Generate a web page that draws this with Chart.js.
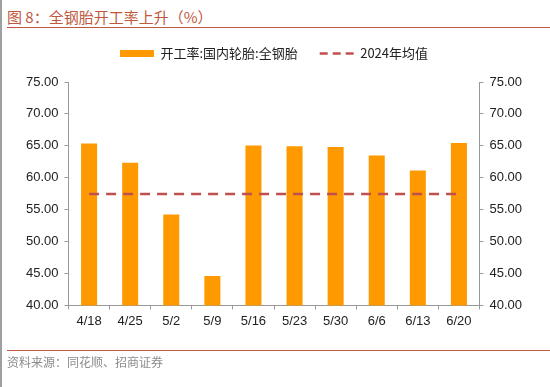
<!DOCTYPE html>
<html>
<head>
<meta charset="utf-8">
<script src="https://cdn.jsdelivr.net/npm/chart.js@4"></script>
<style>
  body { margin: 0; background: #fff; }
  #wrap { position: relative; width: 550px; height: 387px; overflow: hidden; border-left: 2px solid #a0a0a0; box-sizing: border-box; }
  #title { position: absolute; left: 5px; top: 6px; font: 15px "Noto Sans CJK SC", sans-serif; color: #c0583e; }
  #titleLine { position: absolute; left: 5px; right: 0; top: 27px; border-top: 1.5px solid #c0583e; }
  #footLine { position: absolute; left: 5px; right: 0; top: 350px; border-top: 1.5px solid #c0583e; }
  #source { position: absolute; left: 5px; top: 353px; font: 12px "Noto Sans CJK SC", sans-serif; color: #8c8c8c; }
  canvas { position: absolute; left: 0; top: 0; }
</style>
</head>
<body>
<div id="wrap">
  <div id="title">图 8：全钢胎开工率上升（%）</div>
  <div id="titleLine"></div>
  <canvas id="myChart" width="548" height="387"></canvas>
  <div id="footLine"></div>
  <div id="source">资料来源：同花顺、招商证券</div>
</div>
<script>
// chart data
const dates = ['4/18', '4/25', '5/2', '5/9', '5/16', '5/23', '5/30', '6/6', '6/13', '6/20'];
const operatingRate = [65.35, 62.35, 54.25, 44.6, 65.05, 64.95, 64.8, 63.5, 61.15, 65.45];
const avg2024 = [57.47, 57.47, 57.47, 57.47, 57.47, 57.47, 57.47, 57.47, 57.47, 57.47];
const yTicks = [40, 45, 50, 55, 60, 65, 70, 75];

const tickFont = { family: 'Liberation Sans, Arial', size: 13 };

const axisY = (pos) => ({
  position: pos,
  min: 40,
  max: 75,
  afterBuildTicks: (axis) => { axis.ticks = yTicks.map(v => ({ value: v })); },
  border: { color: '#999', width: 1 },
  grid: { drawOnChartArea: false, drawTicks: true, tickLength: 4, color: '#999' },
  ticks: { color: '#222', font: tickFont, padding: 6, callback: (v) => v.toFixed(2) }
});

// push the plot down a bit below the legend
const legendGap = {
  id: 'legendGap',
  beforeInit(chart) {
    const fit = chart.legend.fit;
    chart.legend.fit = function () {
      fit.bind(chart.legend)();
      this.height += 12;
    };
  }
};

var ctx = document.getElementById('myChart').getContext('2d');
var myChart = new Chart(ctx, {
  data: {
    labels: dates,
    datasets: [
      {
        type: 'line',
        label: '2024年均值',
        data: avg2024,
        borderColor: '#c0504d',
        borderWidth: 2.5,
        borderDash: [10, 7],
        pointRadius: 0,
        fill: false,
        order: 0
      },
      {
        type: 'bar',
        label: '开工率:国内轮胎:全钢胎',
        data: operatingRate,
        backgroundColor: '#ff9900',
        barPercentage: 0.39,
        categoryPercentage: 1,
        order: 1
      }
    ]
  },
  options: {
    responsive: false,
    animation: false,
    layout: { padding: { top: 25, left: 18, right: 22, bottom: 54 } },
    plugins: {
      tooltip: { enabled: false },
      legend: {
        position: 'top',
        labels: {
          font: { family: 'Noto Sans CJK SC', size: 13 },
          color: '#222',
          usePointStyle: true,
          pointStyleWidth: 34,
          boxHeight: 7,
          padding: 22,
          generateLabels: (chart) => {
            const ds = chart.data.datasets;
            return [
              { text: ds[1].label, fillStyle: '#ff9900', strokeStyle: '#ff9900', lineWidth: 0, pointStyle: 'rect', datasetIndex: 1, fontColor: '#222' },
              { text: ds[0].label, fillStyle: '#c0504d', strokeStyle: '#c0504d', lineWidth: 2.5, lineDash: [8, 5], pointStyle: 'line', datasetIndex: 0, fontColor: '#222' }
            ];
          }
        }
      }
    },
    scales: {
      x: {
        offset: true,
        border: { color: '#999', width: 1 },
        grid: { offset: true, drawOnChartArea: false, drawTicks: true, tickLength: 4, color: '#999' },
        ticks: { color: '#222', font: tickFont, padding: 4, maxRotation: 0 }
      },
      y: axisY('left'),
      y2: axisY('right')
    }
  },
  plugins: [legendGap]
});
</script>
</body>
</html>
